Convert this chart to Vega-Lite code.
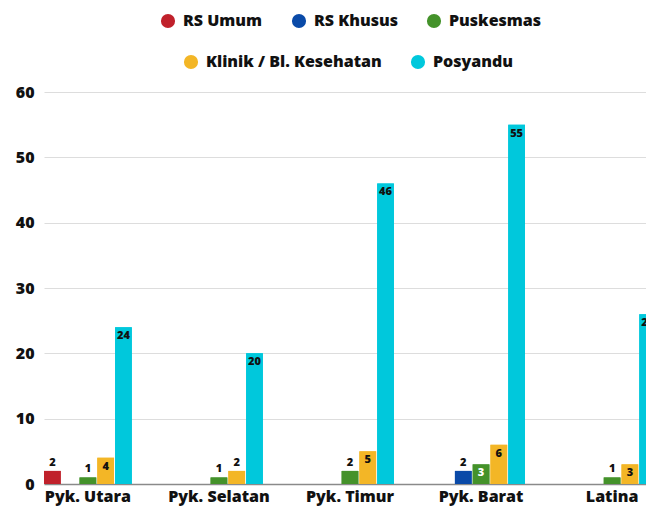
{
  "$schema": "https://vega.github.io/schema/vega-lite/v6.json",
  "width": 602,
  "height": 392,
  "autosize": {"type": "none"},
  "padding": {"left": 44, "top": 92, "right": 0, "bottom": 24},
  "background": "white",
  "config": {
    "view": {"stroke": null},
    "font": "Open Sans",
    "legend": {
      "labelFont": "Open Sans",
      "labelFontSize": 16,
      "labelFontWeight": 800,
      "labelColor": "#111111",
      "symbolType": "circle",
      "symbolSize": 200,
      "symbolStrokeWidth": 0,
      "padding": 0,
      "columnPadding": 28,
      "labelOffset": 7,
      "labelLimit": 300,
      "direction": "horizontal",
      "orient": "none",
      "title": null
    }
  },
  "data": {
    "values": [
      {"wilayah": "Pyk. Utara", "jenis": "RS Umum", "jumlah": 2},
      {"wilayah": "Pyk. Utara", "jenis": "Puskesmas", "jumlah": 1},
      {"wilayah": "Pyk. Utara", "jenis": "Klinik / Bl. Kesehatan", "jumlah": 4},
      {"wilayah": "Pyk. Utara", "jenis": "Posyandu", "jumlah": 24},
      {"wilayah": "Pyk. Selatan", "jenis": "Puskesmas", "jumlah": 1},
      {"wilayah": "Pyk. Selatan", "jenis": "Klinik / Bl. Kesehatan", "jumlah": 2},
      {"wilayah": "Pyk. Selatan", "jenis": "Posyandu", "jumlah": 20},
      {"wilayah": "Pyk. Timur", "jenis": "Puskesmas", "jumlah": 2},
      {"wilayah": "Pyk. Timur", "jenis": "Klinik / Bl. Kesehatan", "jumlah": 5},
      {"wilayah": "Pyk. Timur", "jenis": "Posyandu", "jumlah": 46},
      {"wilayah": "Pyk. Barat", "jenis": "RS Khusus", "jumlah": 2},
      {"wilayah": "Pyk. Barat", "jenis": "Puskesmas", "jumlah": 3},
      {"wilayah": "Pyk. Barat", "jenis": "Klinik / Bl. Kesehatan", "jumlah": 6},
      {"wilayah": "Pyk. Barat", "jenis": "Posyandu", "jumlah": 55},
      {"wilayah": "Latina", "jenis": "Puskesmas", "jumlah": 1},
      {"wilayah": "Latina", "jenis": "Klinik / Bl. Kesehatan", "jumlah": 3},
      {"wilayah": "Latina", "jenis": "Posyandu", "jumlah": 26}
    ]
  },
  "encoding": {
    "x": {
      "field": "wilayah",
      "type": "nominal",
      "sort": ["Pyk. Utara", "Pyk. Selatan", "Pyk. Timur", "Pyk. Barat", "Latina"],
      "scale": {
        "domain": ["Pyk. Utara", "Pyk. Selatan", "Pyk. Timur", "Pyk. Barat", "Latina"],
        "range": [0, 612],
        "paddingInner": 0.33,
        "paddingOuter": 0
      },
      "axis": {
        "title": null,
        "labelAngle": 0,
        "labelFont": "Open Sans",
        "labelFontSize": 16,
        "labelFontWeight": 800,
        "labelColor": "#111111",
        "ticks": false,
        "domainColor": "#8a8a8a",
        "domainWidth": 1.5,
        "labelPadding": 4,
        "grid": false
      }
    },
    "xOffset": {
      "field": "jenis",
      "type": "nominal",
      "scale": {
        "domain": ["RS Umum", "RS Khusus", "Puskesmas", "Klinik / Bl. Kesehatan", "Posyandu"],
        "paddingInner": 0.06
      }
    },
    "y": {
      "field": "jumlah",
      "type": "quantitative",
      "scale": {"domain": [0, 60]},
      "axis": {
        "title": null,
        "values": [0, 10, 20, 30, 40, 50, 60],
        "labelFont": "Open Sans",
        "labelFontSize": 16,
        "labelFontWeight": 800,
        "labelColor": "#111111",
        "domain": false,
        "ticks": false,
        "gridColor": "#dddddd",
        "gridWidth": 1,
        "labelPadding": 10
      }
    }
  },
  "layer": [
    {
      "mark": {"type": "bar"},
      "encoding": {
        "color": {
          "field": "jenis",
          "type": "nominal",
          "scale": {
            "domain": ["RS Umum", "RS Khusus", "Puskesmas", "Klinik / Bl. Kesehatan", "Posyandu"],
            "range": ["#c0212b", "#0a4aa8", "#44922a", "#f3b626", "#00c8dc"]
          },
          "legend": {
            "values": ["RS Umum", "RS Khusus", "Puskesmas"],
            "orient": "none",
            "legendX": 116,
            "legendY": -79,
            "direction": "horizontal"
          }
        }
      }
    },
    {
      "mark": {"type": "bar"},
      "encoding": {
        "color": {
          "field": "jenis",
          "type": "nominal",
          "scale": {
            "domain": ["RS Umum", "RS Khusus", "Puskesmas", "Klinik / Bl. Kesehatan", "Posyandu"],
            "range": ["#c0212b", "#0a4aa8", "#44922a", "#f3b626", "#00c8dc"]
          },
          "legend": {
            "values": ["Klinik / Bl. Kesehatan", "Posyandu"],
            "orient": "none",
            "legendX": 139,
            "legendY": -38,
            "direction": "horizontal"
          }
        }
      }
    },
    {
      "transform": [{"filter": "datum.jumlah >= 3"}],
      "mark": {"type": "text", "clip": true, "baseline": "top", "dy": 3, "fontSize": 11, "fontWeight": 800, "font": "Open Sans"},
      "encoding": {
        "text": {"field": "jumlah", "type": "quantitative"},
        "color": {
          "condition": {"test": "datum.jenis === 'Puskesmas'", "value": "#ffffff"},
          "value": "#111111"
        }
      }
    },
    {
      "transform": [{"filter": "datum.jumlah < 3"}],
      "mark": {"type": "text", "clip": true, "baseline": "bottom", "dy": -3, "fontSize": 11, "fontWeight": 800, "font": "Open Sans", "color": "#111111"},
      "encoding": {
        "text": {"field": "jumlah", "type": "quantitative"}
      }
    }
  ],
  "resolve": {"scale": {"color": "independent"}, "legend": {"color": "independent"}}
}
